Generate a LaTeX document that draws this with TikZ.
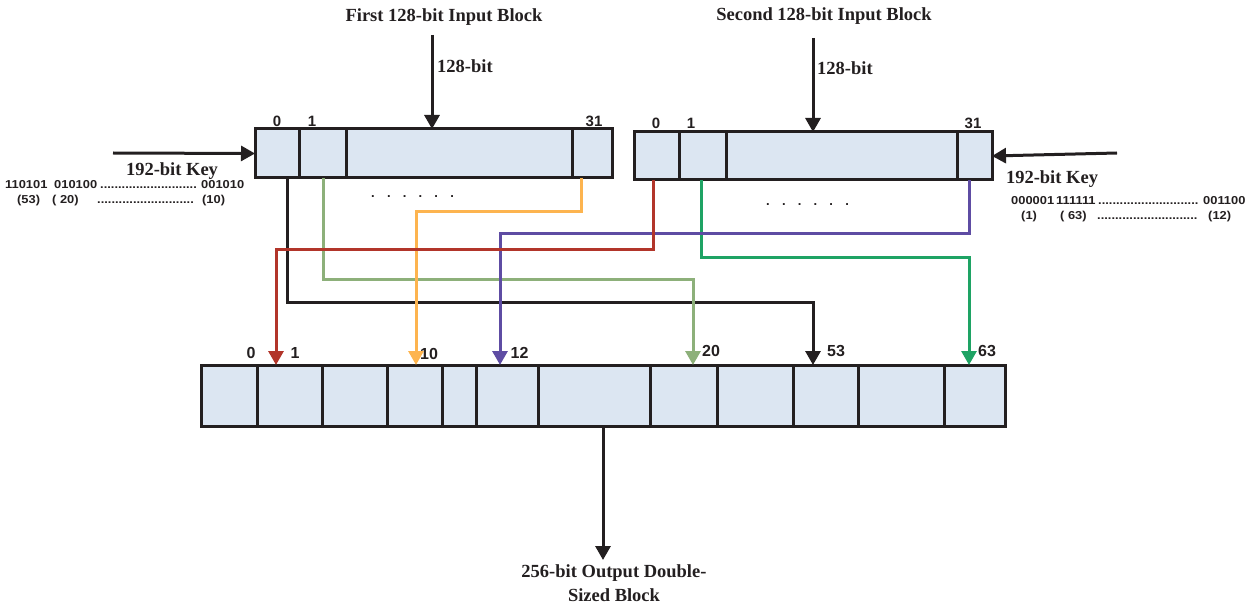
\documentclass[tikz,border=0pt]{standalone}
\usepackage{fontspec}
\setmainfont{Liberation Serif}
\setsansfont{Liberation Sans}
\newfontfamily\bitfont[FakeStretch=1.12]{Liberation Sans}
\usetikzlibrary{arrows.meta}
\definecolor{cellfill}{HTML}{DCE6F2}
\definecolor{lineblk}{HTML}{231F20}
\definecolor{cred}{HTML}{B2352A}
\definecolor{corange}{HTML}{FDB44F}
\definecolor{cpurple}{HTML}{5E4CA3}
\definecolor{clgreen}{HTML}{8DB07A}
\definecolor{cteal}{HTML}{1EA364}
\tikzset{
  cell/.style={draw=lineblk, line width=3pt, fill=cellfill, inner sep=0pt, outer sep=0pt},
  conn/.style={line width=3pt, -{Triangle[width=15pt,length=14pt]}},
  title/.style={font=\bfseries\fontsize{18.5}{20}\selectfont, inner sep=0pt, anchor=base, text=lineblk},
  idx/.style={font=\sffamily\bfseries\fontsize{15}{16}\selectfont, inner sep=0pt, anchor=base, text=lineblk},
  oidx/.style={font=\sffamily\bfseries\fontsize{16}{17}\selectfont, inner sep=0pt, anchor=base, text=lineblk},
  bits/.style={font=\bitfont\bfseries\fontsize{11.5}{12}\selectfont, inner sep=0pt, anchor=base west, text=lineblk},
  dotrow/.style={font=\sffamily\bfseries\fontsize{13}{14}\selectfont, inner sep=0pt, anchor=base west, text=lineblk}
}
\newcommand\sixdots{.\hspace{12.2pt}.\hspace{12.2pt}.\hspace{12.2pt}.\hspace{12.2pt}.\hspace{12.2pt}.}
\begin{document}
\begin{tikzpicture}[x=1pt,y=-1pt]
\useasboundingbox (0,0) rectangle (1253,604);

% ---------- first input block ----------
\node[cell, minimum width=44pt, minimum height=49pt] (a0) at (277,153.5) {};
\node[cell, minimum width=47pt, minimum height=49pt] (a1) at (322.5,153.5) {};
\node[cell, minimum width=226pt, minimum height=49pt] (am) at (459,153.5) {};
\node[cell, minimum width=40pt, minimum height=49pt] (a31) at (592,153.5) {};

% ---------- second input block ----------
\node[cell, minimum width=45pt, minimum height=48pt] (b0) at (656.5,156) {};
\node[cell, minimum width=47pt, minimum height=48pt] (b1) at (702.5,156) {};
\node[cell, minimum width=231pt, minimum height=48pt] (bm) at (841.5,156) {};
\node[cell, minimum width=35pt, minimum height=48pt] (b31) at (974.5,156) {};

% ---------- output block ----------
\node[cell, minimum width=56pt, minimum height=61pt] (c1) at (229,395.5) {};
\node[cell, minimum width=65pt, minimum height=61pt] (c2) at (289.5,395.5) {};
\node[cell, minimum width=65pt, minimum height=61pt] (c3) at (354.5,395.5) {};
\node[cell, minimum width=55pt, minimum height=61pt] (c4) at (414.5,395.5) {};
\node[cell, minimum width=34pt, minimum height=61pt] (c5) at (459,395.5) {};
\node[cell, minimum width=62pt, minimum height=61pt] (c6) at (507,395.5) {};
\node[cell, minimum width=112pt, minimum height=61pt] (c7) at (594,395.5) {};
\node[cell, minimum width=67pt, minimum height=61pt] (c8) at (683.5,395.5) {};
\node[cell, minimum width=76pt, minimum height=61pt] (c9) at (755,395.5) {};
\node[cell, minimum width=65pt, minimum height=61pt] (c10) at (825.5,395.5) {};
\node[cell, minimum width=86pt, minimum height=61pt] (c11) at (901,395.5) {};
\node[cell, minimum width=61pt, minimum height=61pt] (c12) at (974.5,395.5) {};

% ---------- titles and input arrows ----------
\node[title] (t1) at (444,22) {First 128-bit Input Block};
\node[title] (t2) at (824,21) {Second 128-bit Input Block};
\coordinate (in1) at (432,35);
\coordinate (in2) at (813,38);
\draw[conn, lineblk] (in1) -- ([xshift=-27pt]am.north);
\draw[conn, lineblk] (in2) -- ([xshift=-28.5pt]bm.north);
\node[title, anchor=base west] (w1) at (437,73) {128-bit};
\node[title, anchor=base west] (w2) at (817,75) {128-bit};

% ---------- key arrows ----------
\coordinate (k1) at (113,153);
\coordinate (k2) at (1117,153);
\draw[conn, lineblk] (k1) -- (a0.west);
\draw[conn, lineblk] (k2) -- (b31.east);
\node[title] (key1) at (172,176) {192-bit Key};
\node[title] (key2) at (1052,184) {192-bit Key};

% key bits left
\node[bits] (l11) at (5,189) {110101};
\node[bits] (l12) at (54,189) {010100};
\node[bits] (l13) at (100,189) {...........................};
\node[bits] (l14) at (201,189) {001010};
\node[bits] (l21) at (17,204) {(53)};
\node[bits] (l22) at (52,204) {( 20)};
\node[bits] (l23) at (97,204) {...........................};
\node[bits] (l24) at (202,204) {(10)};
% key bits right
\node[bits] (r11) at (1011,205) {000001};
\node[bits] (r12) at (1056,205) {111111};
\node[bits] (r13) at (1098,205) {............................};
\node[bits] (r14) at (1203,205) {001100};
\node[bits] (r21) at (1021,220) {(1)};
\node[bits] (r22) at (1060,220) {( 63)};
\node[bits] (r23) at (1097,220) {............................};
\node[bits] (r24) at (1208,220) {(12)};

% ---------- index labels ----------
\node[idx] at (277,127) {0};
\node[idx] at (312,127) {1};
\node[idx] at (594,127) {31};
\node[idx] at (656,129) {0};
\node[idx] at (691,129) {1};
\node[idx] at (973,129) {31};

\node[oidx] at (251,358) {0};
\node[oidx] at (295,358) {1};
\node[oidx] at (429,359) {10};
\node[oidx] at (519.5,358) {12};
\node[oidx] at (711,356) {20};
\node[oidx] at (836,356) {53};
\node[oidx] at (987,356) {63};

% dots
\node[dotrow] (d1) at (371,198) {\sixdots};
\node[dotrow] (d2) at (766,206) {\sixdots};

% ---------- connectors ----------
\draw[conn, lineblk] ([xshift=10pt]a0.south) -- ++(0,124) -| ([xshift=-12.5pt]c10.north);
\draw[conn, clgreen] ([xshift=0.5pt]a1.south) -- ++(0,101) -| ([xshift=9.5pt]c8.north);
\draw[conn, cteal] ([xshift=-1.5pt]b1.south) -- ++(0,77) -| ([xshift=-5.5pt]c12.north);
\draw[conn, cpurple] ([xshift=-5.5pt]b31.south) -- ++(0,54) -| ([xshift=-7pt]c6.north);
\draw[conn, corange] ([xshift=-11pt]a31.south) -- ++(0,34) -| ([xshift=1.5pt]c4.north);
\draw[conn, cred] ([xshift=-3.5pt]b0.south) -- ++(0,70) -| ([xshift=-13.5pt]c2.north);

% ---------- output ----------
\coordinate (out) at (603,560);
\draw[conn, lineblk] ([xshift=9pt]c7.south) -- (out);
\node[title, anchor=north, align=center, font=\bfseries\fontsize{18.5}{24}\selectfont] (otext) at (614,564) {256-bit Output Double-\\Sized Block};
\end{tikzpicture}
\end{document}
